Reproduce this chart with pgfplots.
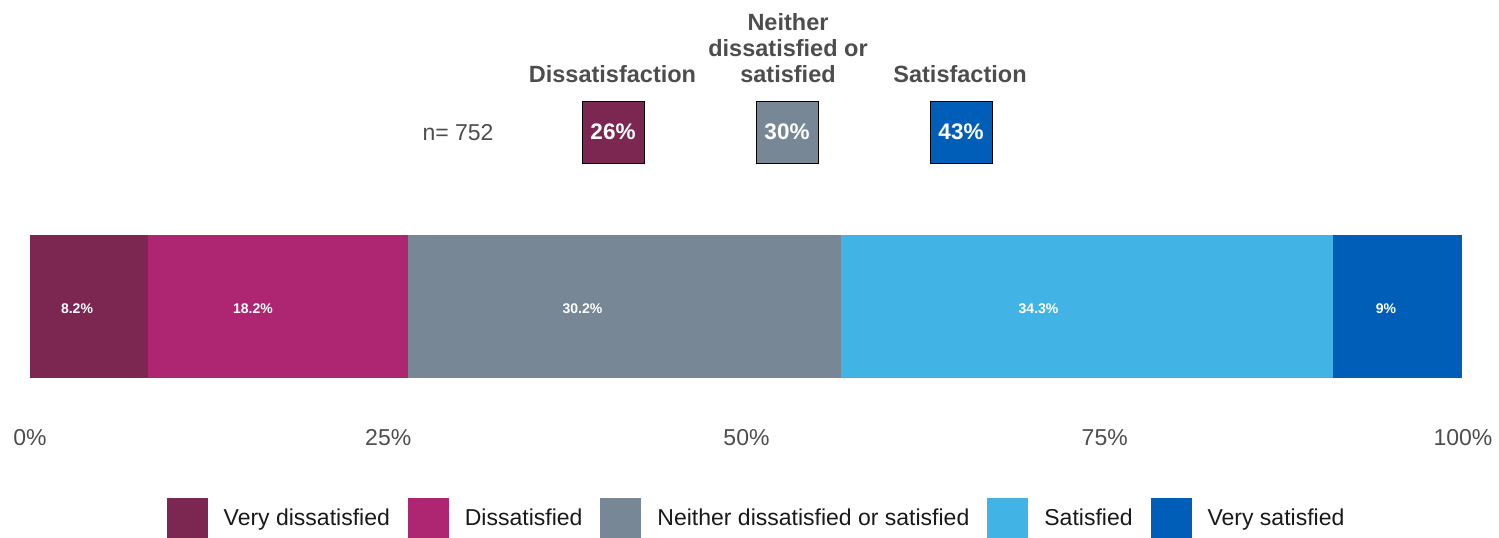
\documentclass[border=0pt]{standalone}
\usepackage{fontspec}
\setmainfont{Liberation Sans}
\usepackage{pgfplots}
\pgfplotsset{compat=1.18}
\definecolor{vdis}{HTML}{7B2751}
\definecolor{dis}{HTML}{AE2572}
\definecolor{neit}{HTML}{788795}
\definecolor{sat}{HTML}{41B4E5}
\definecolor{vsat}{HTML}{005EB8}
\definecolor{txt}{HTML}{4D4D4D}
\tikzset{barlab/.style={font=\bfseries\fontsize{14}{16}\selectfont, text=white}}
\begin{document}
\begin{tikzpicture}[x=1pt,y=1pt]
\path[use as bounding box] (0,0) rectangle (1499,538);
\begin{axis}[
  at={(30pt,108pt)}, anchor=south west,
  scale only axis, width=1433pt, height=247pt,
  xbar stacked, bar width=143pt,
  xmin=0, xmax=100, ymin=0, ymax=1,
  axis line style={draw=none},
  major tick length=0pt,
  ytick=\empty,
  xtick={0,25,50,75,100},
  xticklabels={0\%,25\%,50\%,75\%,100\%},
  xticklabel style={anchor=base, yshift=-16pt, font=\fontsize{23}{26}\selectfont, text=txt},
  legend columns=5,
  legend style={at={(0.5063,-0.357)}, anchor=center, draw=none, fill=none,
    font=\fontsize{23}{26}\selectfont, text=black!90,
    nodes={inner sep=0pt},
    /tikz/every odd column/.append style={column sep=16pt},
    /tikz/every even column/.append style={column sep=18pt}},
  legend image code/.code={\fill[#1] (0pt,-20.5pt) rectangle (41pt,20.5pt);},
]
\addplot[fill=vdis, draw=none] coordinates {(8.2,0.5)};
\addlegendentry{Very dissatisfied}
\addplot[fill=dis, draw=none] coordinates {(18.2,0.5)};
\addlegendentry{Dissatisfied}
\addplot[fill=neit, draw=none] coordinates {(30.2,0.5)};
\addlegendentry{Neither dissatisfied or satisfied}
\addplot[fill=sat, draw=none] coordinates {(34.3,0.5)};
\addlegendentry{Satisfied}
\addplot[fill=vsat, draw=none] coordinates {(9.0,0.5)};
\addlegendentry{Very satisfied}
\coordinate (l1) at (axis cs:3.28,0.492);
\coordinate (l2) at (axis cs:15.56,0.492);
\coordinate (l3) at (axis cs:38.55,0.492);
\coordinate (l4) at (axis cs:70.38,0.492);
\coordinate (l5) at (axis cs:94.63,0.492);
\end{axis}
\node[barlab] at (l1) {8.2\%};
\node[barlab] at (l2) {18.2\%};
\node[barlab] at (l3) {30.2\%};
\node[barlab] at (l4) {34.3\%};
\node[barlab] at (l5) {9\%};
% summary annotations
\node[anchor=base, font=\fontsize{23}{26}\selectfont, text=txt] at (458,397) {n= 752};
\begin{scope}[every node/.style={minimum size=62pt, inner sep=0pt, draw=black, line width=0.8pt, text=white, font=\bfseries\fontsize{22.5}{26}\selectfont}]
\node[fill=vdis] at (613,406) {26\%};
\node[fill=neit] at (787,406) {30\%};
\node[fill=vsat] at (961,406) {43\%};
\end{scope}
\begin{scope}[every node/.style={anchor=base, inner sep=0pt, text=txt, font=\bfseries\fontsize{23.5}{26}\selectfont}]
\node at (612.5,455.5) {Dissatisfaction};
\node at (960,455.5) {Satisfaction};
\node at (788,455.5) {satisfied};
\node at (788,481.5) {dissatisfied or};
\node at (788,507.5) {Neither};
\end{scope}
\end{tikzpicture}
\end{document}
